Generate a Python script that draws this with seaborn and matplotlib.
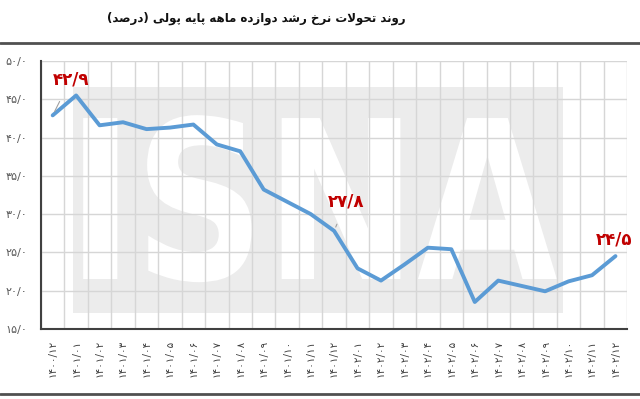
import numpy as np
import pandas as pd
import seaborn as sns
import matplotlib.pyplot as plt
from matplotlib.lines import Line2D
from matplotlib.patches import Rectangle, PathPatch
from matplotlib.textpath import TextPath
from matplotlib.font_manager import FontProperties
from matplotlib.transforms import Affine2D

# Data (12-month growth of the monetary base, %)
months = ['۱۴۰۰/۱۲',
          '۱۴۰۱/۰۱', '۱۴۰۱/۰۲', '۱۴۰۱/۰۳', '۱۴۰۱/۰۴', '۱۴۰۱/۰۵', '۱۴۰۱/۰۶',
          '۱۴۰۱/۰۷', '۱۴۰۱/۰۸', '۱۴۰۱/۰۹', '۱۴۰۱/۱۰', '۱۴۰۱/۱۱', '۱۴۰۱/۱۲',
          '۱۴۰۲/۰۱', '۱۴۰۲/۰۲', '۱۴۰۲/۰۳', '۱۴۰۲/۰۴', '۱۴۰۲/۰۵', '۱۴۰۲/۰۶',
          '۱۴۰۲/۰۷', '۱۴۰۲/۰۸', '۱۴۰۲/۰۹', '۱۴۰۲/۱۰', '۱۴۰۲/۱۱', '۱۴۰۲/۱۲']
growth = [42.9, 45.5, 41.6, 42.0, 41.1, 41.3, 41.7, 39.1, 38.2, 33.2, 31.6, 30.0, 27.8,
          22.9, 21.3, 23.4, 25.6, 25.4, 18.5, 21.3, 20.6, 19.9, 21.2, 22.0, 24.5]
y_ticks = [15, 20, 25, 30, 35, 40, 45, 50]
y_tick_labels = ['۱۵/۰', '۲۰/۰', '۲۵/۰', '۳۰/۰', '۳۵/۰', '۴۰/۰', '۴۵/۰', '۵۰/۰']
note_idx = [0, 12, 24]
note_txt = ['۴۲/۹', '۲۷/۸', '۲۴/۵']
title = 'روند تحولات نرخ رشد دوازده ماهه پایه پولی (درصد)'

# matplotlib has no Arabic shaping, so map letters to presentation forms
FORMS = {
    'ا': ('\uFE8D', '\uFE8E'),
    'د': ('\uFEA9', '\uFEAA'),
    'ر': ('\uFEAD', '\uFEAE'),
    'ز': ('\uFEAF', '\uFEB0'),
    'و': ('\uFEED', '\uFEEE'),
    'ت': ('\uFE95', '\uFE96', '\uFE97', '\uFE98'),
    'ح': ('\uFEA1', '\uFEA2', '\uFEA3', '\uFEA4'),
    'خ': ('\uFEA5', '\uFEA6', '\uFEA7', '\uFEA8'),
    'ش': ('\uFEB5', '\uFEB6', '\uFEB7', '\uFEB8'),
    'ص': ('\uFEB9', '\uFEBA', '\uFEBB', '\uFEBC'),
    'ل': ('\uFEDD', '\uFEDE', '\uFEDF', '\uFEE0'),
    'م': ('\uFEE1', '\uFEE2', '\uFEE3', '\uFEE4'),
    'ن': ('\uFEE5', '\uFEE6', '\uFEE7', '\uFEE8'),
    'ه': ('\uFEE9', '\uFEEA', '\uFEEB', '\uFEEC'),
    'ی': ('\uFEEF', '\uFEF0', '\uFEF3', '\uFEF4'),
    'پ': ('\uFB56', '\uFB57', '\uFB58', '\uFB59'),
}


def shape(text):
    out = []
    i = 0
    prev_joins = False
    while i < len(text):
        c = text[i]
        if c not in FORMS:
            out.append(c)
            prev_joins = False
            i += 1
            continue
        nxt = text[i + 1] if i + 1 < len(text) else ''
        if c == 'ل' and nxt == 'ا':
            out.append('\uFEFC' if prev_joins else '\uFEFB')
            prev_joins = False
            i += 2
            continue
        f = FORMS[c]
        next_joins = len(f) == 4 and nxt in FORMS
        if prev_joins and next_joins:
            g = f[3]
        elif prev_joins:
            g = f[1]
        elif next_joins:
            g = f[2]
        else:
            g = f[0]
        out.append(g)
        prev_joins = next_joins
        i += 1
    vis = ''.join(reversed(out))
    return vis.translate(str.maketrans('()', ')('))


df = pd.DataFrame({'pos': np.arange(len(months)), 'month': months, 'growth': growth})

sns.set_style('white')
plt.rcParams['font.family'] = ['DejaVu Sans']

fig = plt.figure(figsize=(6.4, 3.99), dpi=100)
ax = fig.add_axes([0.064, 0.176, 0.916, 0.671])

# ISNA watermark behind the grid (squeezed text outline)
ax.add_patch(Rectangle((0.055, 0.059), 0.835, 0.844, transform=ax.transAxes,
                       color='#ececec', lw=0, zorder=0.1))
tp = TextPath((0, 0), 'ISNA', size=1, prop=FontProperties(family='DejaVu Sans', weight='bold'))
bb = tp.get_extents()
box = (0.072, 0.174, 0.880, 0.798)
fit = (Affine2D().translate(-bb.x0, -bb.y0)
       .scale((box[2] - box[0]) / bb.width, (box[3] - box[1]) / bb.height)
       .translate(box[0], box[1]))
ax.add_patch(PathPatch(tp, transform=fit + ax.transAxes, color='white', lw=0, zorder=0.2))

sns.lineplot(data=df, x='pos', y='growth', color='#5b9bd5', lw=2.8, ax=ax, zorder=3)

ax.set_xlim(-0.5, len(months) - 0.5)
ax.set_ylim(15, 50)
ax.set_xticks(df['pos'])
ax.set_xticklabels(months, rotation=90, fontsize=7.5, color='#404040')
ax.set_xticks(np.arange(-0.5, len(months), 1), minor=True)
ax.set_yticks(y_ticks)
ax.set_yticklabels(y_tick_labels, fontsize=8, color='#595959')
ax.tick_params(which='both', length=0)
ax.tick_params(axis='x', pad=8)
ax.tick_params(axis='y', pad=10)
ax.set_axisbelow(True)
ax.grid(which='minor', axis='x', color='#d6d6d6', lw=1)
ax.grid(which='major', axis='y', color='#d6d6d6', lw=1)
ax.grid(which='major', axis='x', visible=False)
ax.set_xlabel('')
ax.set_ylabel('')
for side in ['top', 'right']:
    ax.spines[side].set_visible(False)
for side in ['left', 'bottom']:
    ax.spines[side].set_color('#404040')
    ax.spines[side].set_linewidth(1.5)

# red value callouts
offsets = [(13, 26), (9, 21), (-1, 12)]
for i, txt, off in zip(note_idx, note_txt, offsets):
    ax.annotate(txt, xy=(df['pos'][i], df['growth'][i]), xytext=off,
                textcoords='offset points', ha='center', va='center',
                fontsize=12, weight='bold', color='#c00000',
                arrowprops=dict(arrowstyle='-', color='#a0a0a0', lw=0.8,
                                shrinkA=8, shrinkB=3) if i != 24 else None)

fig.text(0.40, 1 - 18 / 399, shape(title), ha='center', va='center',
         fontsize=8.5, weight='bold', color='#111111')
fig.add_artist(Line2D([0, 1], [1 - 43 / 399] * 2, color='#505050', lw=2,
                      transform=fig.transFigure))
fig.add_artist(Line2D([0, 1], [1 - 394 / 399] * 2, color='#505050', lw=2,
                      transform=fig.transFigure))

fig.savefig('out.png', dpi=100)
